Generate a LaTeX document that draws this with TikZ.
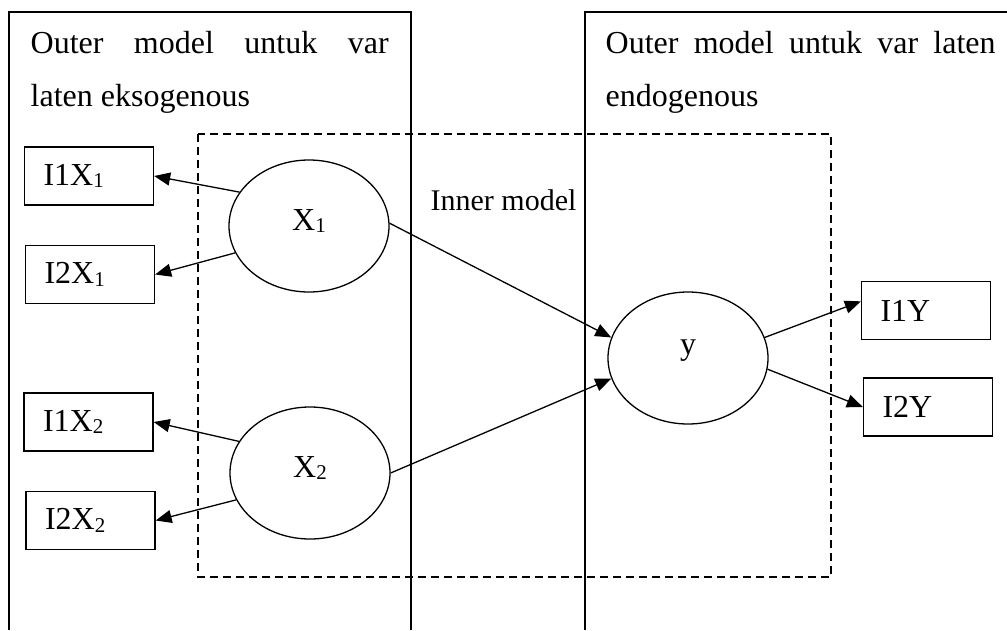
\documentclass[tikz,border=0pt]{standalone}
\usepackage{fontspec}
\setmainfont{Liberation Serif}
\usetikzlibrary{arrows.meta,shapes.geometric}
\newcommand{\idx}[1]{\raisebox{-2.5pt}{\fontsize{21}{21}\selectfont #1}}

\begin{document}
\begin{tikzpicture}[x=1pt,y=-1pt,line width=1.3pt,
  font=\fontsize{32}{53}\selectfont,
  latent/.style={draw,ellipse,minimum width=160pt,minimum height=132pt,inner sep=0pt},
  latentname/.style={anchor=base,yshift=5pt},
  indicator/.style={draw,rectangle,minimum height=58pt,text width=91pt,inner xsep=19pt,align=left},
  arr/.style={-{Triangle[length=16pt,width=13pt]}}]

\useasboundingbox (0,0) rectangle (1007,630);

% outer model boxes
\draw (9,630) |- (411,12) -- (411,630);
\draw (585,630) |- (1007,12);
\node[anchor=base west,inner sep=0pt,text width=358pt,align=justify] (exotext) at (30,53)
  {Outer model untuk var\linebreak laten eksogenous};
\node[anchor=base west,inner sep=0pt,text width=390pt,align=justify] (endotext) at (605,53)
  {Outer model untuk var laten\linebreak endogenous};

% inner model
\draw[dash pattern=on 8pt off 5pt] (198,134) rectangle (831,577);
\node[anchor=base west,inner sep=0pt,font=\fontsize{30}{36}\selectfont] (innertext) at (430,210) {Inner model};

% latent variables
\node[latent,label={[latentname]center:X\idx{1}}] (x1) at (309,226) {};
\node[latent,label={[latentname]center:X\idx{2}}] (x2) at (310,473) {};
\node[latent,label={[latentname,yshift=2pt]center:y}] (yy) at (688,358) {};

% indicators
\node[indicator] (i1x1) at (89,176) {I1X\idx{1}};
\node[indicator] (i2x1) at (90,274.5) {I2X\idx{1}};
\node[indicator] (i1x2) at (88.5,422) {I1X\idx{2}};
\node[indicator] (i2x2) at (90.5,520.5) {I2X\idx{2}};
\node[indicator] (i1y) at (926,310.5) {I1Y};
\node[indicator] (i2y) at (928,407) {I2Y};

% loadings
\draw[arr] (x1.154) -- (i1x1.east);
\draw[arr] (x1.200) -- (i2x1.east);
\draw[arr] (x2.156) -- (i1x2.east);
\draw[arr] (x2.200) -- (i2x2.east);
\draw[arr] (yy.15) -- (i1y.172);
\draw[arr] (yy.352) -- (i2y.west);

% paths
\draw[arr] (x1.2) -- (yy.165);
\draw[arr] (x2.east) -- (yy.195);

\end{tikzpicture}
\end{document}
